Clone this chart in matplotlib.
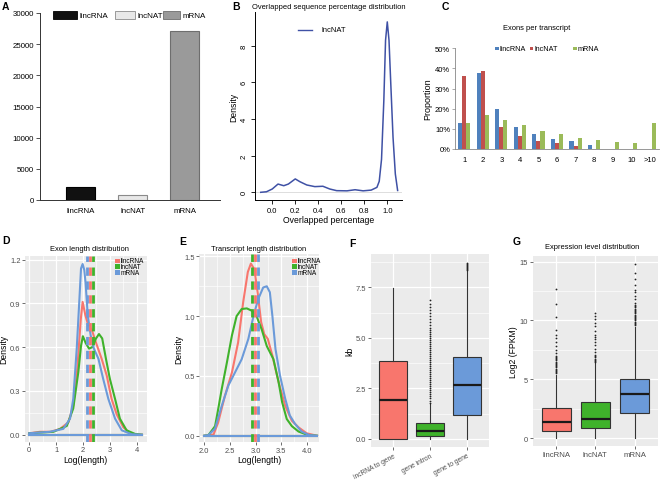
import matplotlib
matplotlib.use("Agg")
import matplotlib.pyplot as plt
from matplotlib.patches import Rectangle
from matplotlib.lines import Line2D

plt.rcParams['font.family'] = ['Liberation Sans', 'DejaVu Sans']
plt.rcParams['lines.scale_dashes'] = False

# ------------------------------------------------------------------ data
# A: transcript counts
a_categories = ['lincRNA', 'lncNAT', 'mRNA']
a_counts = [2100, 850, 27150]

# B: overlapped sequence percentage density (lncNAT)
b_x = [-0.10, -0.05, 0.0, 0.05, 0.10, 0.14, 0.20, 0.24, 0.30, 0.37, 0.44, 0.50,
       0.56, 0.65, 0.72, 0.79, 0.86, 0.91, 0.93, 0.95, 0.97, 0.985, 1.0, 1.015,
       1.03, 1.05, 1.07, 1.09]
b_y = [0.0, 0.03, 0.18, 0.45, 0.36, 0.45, 0.73, 0.58, 0.40, 0.31, 0.33, 0.18,
       0.09, 0.08, 0.14, 0.08, 0.12, 0.27, 0.6, 1.8, 5.0, 8.3, 9.3, 8.3,
       6.0, 3.0, 1.0, 0.1]

# C: exons per transcript (%)
c_groups = ['1', '2', '3', '4', '5', '6', '7', '8', '9', '10', '>10']
c_lincRNA = [13.0, 37.9, 20.0, 10.7, 7.2, 4.8, 4.1, 1.8, 0.2, 0.0, 0.1]
c_lncNAT = [36.3, 38.6, 10.8, 6.7, 3.9, 2.8, 1.5, 0.0, 0.0, 0.0, 0.0]
c_mRNA = [12.7, 16.9, 14.5, 11.7, 8.9, 7.2, 5.3, 4.4, 3.4, 2.8, 12.7]

# D: exon length density
d_lincRNA_x = [0, 0.4, 0.8, 1.15, 1.46, 1.64, 1.79, 1.92, 1.99, 2.09, 2.2, 2.33,
               2.49, 2.7, 2.89, 3.07, 3.26, 3.51, 3.8, 4.2]
d_lincRNA_y = [0.01, 0.02, 0.02, 0.04, 0.085, 0.2, 0.45, 0.79, 0.91, 0.82, 0.75, 0.72,
               0.63, 0.52, 0.405, 0.245, 0.14, 0.05, 0.005, 0.0]
d_lncNAT_x = [0, 0.9, 1.4, 1.64, 1.83, 1.93, 2.0, 2.1, 2.23, 2.35, 2.49, 2.6, 2.72,
              2.86, 3.01, 3.2, 3.38, 3.63, 3.95, 4.2]
d_lncNAT_y = [0.01, 0.02, 0.06, 0.18, 0.43, 0.61, 0.675, 0.63, 0.59, 0.6, 0.66, 0.69,
              0.66, 0.52, 0.38, 0.245, 0.11, 0.03, 0.005, 0.0]
d_mRNA_x = [0, 0.77, 1.27, 1.52, 1.64, 1.77, 1.87, 1.93, 1.99, 2.05, 2.1, 2.18, 2.29,
            2.41, 2.58, 2.76, 2.95, 3.2, 3.45, 3.82, 4.2]
d_mRNA_y = [0.01, 0.02, 0.04, 0.11, 0.245, 0.59, 0.93, 1.14, 1.17, 1.13, 1.04, 0.82,
            0.68, 0.59, 0.52, 0.38, 0.245, 0.11, 0.03, 0.003, 0.0]
d_means = [2.26, 2.37, 2.15]   # lincRNA, lncNAT, mRNA

# E: transcript length density
e_lincRNA_x = [2.0, 2.18, 2.27, 2.40, 2.54, 2.66, 2.76, 2.85, 2.91, 2.98, 3.04, 3.11,
               3.17, 3.24, 3.33, 3.45, 3.58, 3.71, 3.84, 4.0, 4.2]
e_lincRNA_y = [0.0, 0.01, 0.11, 0.33, 0.53, 0.78, 1.12, 1.37, 1.44, 1.39, 1.2, 0.95,
               0.85, 0.81, 0.67, 0.45, 0.25, 0.125, 0.07, 0.02, 0.0]
e_lncNAT_x = [2.0, 2.08, 2.21, 2.27, 2.34, 2.44, 2.54, 2.63, 2.73, 2.83, 2.93, 3.02,
              3.12, 3.22, 3.35, 3.45, 3.52, 3.61, 3.71, 3.84, 4.03, 4.2]
e_lncNAT_y = [0.0, 0.005, 0.08, 0.22, 0.39, 0.61, 0.84, 1.0, 1.06, 1.065, 1.045, 1.0,
              0.89, 0.75, 0.64, 0.45, 0.28, 0.14, 0.08, 0.035, 0.005, 0.0]
e_mRNA_x = [2.0, 2.08, 2.21, 2.34, 2.47, 2.6, 2.73, 2.86, 2.96, 3.05, 3.15, 3.22,
            3.28, 3.33, 3.39, 3.48, 3.58, 3.67, 3.77, 3.9, 4.05, 4.2]
e_mRNA_y = [0.0, 0.005, 0.06, 0.25, 0.42, 0.53, 0.64, 0.81, 1.0, 1.14, 1.24, 1.25,
            1.2, 1.0, 0.725, 0.5, 0.31, 0.17, 0.1, 0.035, 0.005, 0.0]
e_means = [2.99, 2.94, 3.04]

# F: distances (kb)
f_labels = ['lncRNA to gene', 'gene intron', 'gene to gene']
f_q1 = [0.0, 0.15, 1.2]
f_med = [1.95, 0.38, 2.67]
f_q3 = [3.87, 0.78, 4.04]
f_whislo = [0.0, 0.0, 0.0]
f_whishi = [7.45, 1.72, 8.3]
f_fliers_lnc = []
f_fliers_intron = [1.8, 1.9, 2.0, 2.1, 2.2, 2.3, 2.4, 2.5, 2.6, 2.7, 2.8, 2.9, 3.0,
                   3.1, 3.2, 3.3, 3.4, 3.5, 3.6, 3.7, 3.8, 3.9, 4.0, 4.1, 4.2, 4.3,
                   4.4, 4.5, 4.6, 4.7, 4.8, 4.9, 5.0, 5.1, 5.2, 5.3, 5.4, 5.5, 5.65,
                   5.8, 5.95, 6.1, 6.25, 6.4, 6.55, 6.7, 6.85]
f_fliers_g2g = [8.35, 8.4, 8.45, 8.5, 8.55, 8.6, 8.65, 8.7]

# G: expression level
g_labels = ['lincRNA', 'lncNAT', 'mRNA']
g_q1 = [0.62, 0.82, 2.1]
g_med = [1.33, 1.62, 3.77]
g_q3 = [2.52, 3.04, 5.05]
g_whislo = [0.0, 0.0, 0.0]
g_whishi = [5.37, 6.37, 9.47]
g_fliers_linc = [5.5, 5.6, 5.7, 5.8, 5.9, 6.0, 6.1, 6.2, 6.3, 6.4, 6.5, 6.6, 6.7,
                 6.8, 6.9, 7.0, 7.2, 7.5, 7.8, 8.2, 8.5, 8.8, 9.2, 10.3, 11.4, 12.7]
g_fliers_nat = [6.45, 6.55, 6.65, 6.75, 6.85, 6.95, 7.05, 7.3, 7.6, 7.9, 8.2, 8.4,
                8.6, 8.8, 9.1, 9.5, 9.8, 10.1, 10.4, 10.6]
g_fliers_mrna = [9.6, 9.7, 9.8, 9.9, 10.0, 10.1, 10.2, 10.3, 10.4, 10.5, 10.6, 10.7,
                 10.8, 10.9, 11.0, 11.1, 11.2, 11.3, 11.5, 11.8, 12.1, 12.4, 12.6,
                 13.0, 13.5, 14.0, 14.8]

# ------------------------------------------------------------------ helpers
W, H = 660, 481
fig = plt.figure(figsize=(6.6, 4.81), dpi=100)


def rect(l, t, r, b):
    return [l / W, 1 - b / H, (r - l) / W, (b - t) / H]


def ftext(x, y, s, **kw):
    fig.text(x / W, 1 - y / H, s, **kw)


def fbox(x, y, w, h, color, ec='none', lw=0):
    fig.patches.append(Rectangle((x / W, 1 - (y + h) / H), w / W, h / H,
                                 transform=fig.transFigure, facecolor=color,
                                 edgecolor=ec, linewidth=lw))


RED, GREEN, BLUE = '#F8766D', '#3FB22B', '#6B9AD9'
TICKC = '#4D4D4D'


def gg_style(ax, xmaj, xmin, ymaj, ymin):
    ax.set_facecolor('#EBEBEB')
    for s in ax.spines.values():
        s.set_visible(False)
    ax.set_xticks(xmaj)
    ax.set_yticks(ymaj)
    if xmin is not None:
        ax.set_xticks(xmin, minor=True)
    ax.set_yticks(ymin, minor=True)
    ax.grid(which='major', color='white', lw=0.9)
    ax.grid(which='minor', color='white', lw=0.45)
    ax.set_axisbelow(True)
    ax.tick_params(which='minor', length=0)
    ax.tick_params(which='major', length=2, width=0.5, color='#333333',
                   labelsize=5.4, labelcolor=TICKC, pad=1.2)


# ------------------------------------------------------------------ A
axA = fig.add_axes(rect(40, 14, 220, 201))
a_colors = ['#111111', '#E8E8E8', '#9A9A9A']
a_edges = ['#000000', '#8A8A8A', '#6E6E6E']
axA.bar(range(3), a_counts, width=0.56, color=a_colors, edgecolor=a_edges, linewidth=0.8)
axA.set_xlim(-0.78, 2.68)
axA.set_ylim(0, 30000)
axA.set_yticks([0, 5000, 10000, 15000, 20000, 25000, 30000])
axA.set_xticks(range(3))
axA.set_xticklabels(a_categories)
for s in ['top', 'right']:
    axA.spines[s].set_visible(False)
axA.spines['left'].set_color('#333333')
axA.spines['bottom'].set_color('#333333')
axA.spines['left'].set_linewidth(0.7)
axA.spines['bottom'].set_linewidth(0.7)
axA.tick_params(axis='y', length=3, width=0.6, labelsize=5.7, pad=1.5, color='#333333')
axA.tick_params(axis='x', length=0, labelsize=5.7, pad=5)
# legend
for (x0, w, x1, lab, col, ec) in [(53, 24, 80, 'lincRNA', a_colors[0], a_edges[0]),
                                  (115, 20, 138, 'lncNAT', a_colors[1], a_edges[1]),
                                  (163, 17, 183, 'mRNA', a_colors[2], a_edges[2])]:
    fbox(x0, 12, w, 8, col, ec, 0.6)
    ftext(x1, 16, lab, fontsize=5.8, va='center', ha='left')

# ------------------------------------------------------------------ B
axB = fig.add_axes(rect(255, 13, 402, 201))
axB.axhline(0, color='#D0D0D0', lw=0.5, zorder=1)
axB.plot(b_x, b_y, color='#3F51A5', lw=1.1, zorder=2)
axB.set_xlim(-0.15, 1.128)
axB.set_ylim(-0.42, 9.84)
axB.set_xticks([0.0, 0.2, 0.4, 0.6, 0.8, 1.0])
axB.set_yticks([0, 2, 4, 6, 8])
for s in ['top', 'right']:
    axB.spines[s].set_visible(False)
for s in ['left', 'bottom']:
    axB.spines[s].set_linewidth(0.7)
axB.tick_params(length=3, width=0.6, labelsize=5.5, pad=2)
for lab in axB.get_yticklabels():
    lab.set_rotation(90)
    lab.set_va('center')
axB.set_xlabel('Overlapped percentage', fontsize=6.2, labelpad=1)
axB.set_ylabel('Density', fontsize=6.2, labelpad=2)
axB.set_title('Overlapped sequence percentage distribution', fontsize=5.4, pad=3)
fig.lines.append(Line2D([298 / W, 312 / W], [1 - 31 / H, 1 - 31 / H],
                        transform=fig.transFigure, color='#3F51A5', lw=1.0))
ftext(321, 31, 'lncNAT', fontsize=5.5, va='center')

# ------------------------------------------------------------------ C
axC = fig.add_axes(rect(455, 49.3, 659, 150))
xs = list(range(1, 12))
bw = 0.22
axC.bar([x - bw for x in xs], c_lincRNA, width=bw, color='#4F81BD')
axC.bar(xs, c_lncNAT, width=bw, color='#C0504D')
axC.bar([x + bw for x in xs], c_mRNA, width=bw, color='#9BBB59')
axC.set_xlim(0.5, 11.5)
axC.set_ylim(0, 50)
axC.set_yticks([0, 10, 20, 30, 40, 50])
axC.set_yticklabels(['0%', '10%', '20%', '30%', '40%', '50%'])
axC.set_xticks(xs)
axC.set_xticklabels(c_groups)
for s in ['top', 'right']:
    axC.spines[s].set_visible(False)
for s in ['left', 'bottom']:
    axC.spines[s].set_color('#878787')
    axC.spines[s].set_linewidth(0.6)
axC.tick_params(axis='y', length=2, width=0.5, color='#878787', labelsize=5.5, pad=1.5)
axC.tick_params(axis='x', length=0, labelsize=5.5, pad=5)
axC.set_ylabel('Proportion', fontsize=6.5, labelpad=2)
ftext(537, 28, 'Exons per transcript', fontsize=5.4, ha='center', va='center')
for (x0, lab, col) in [(495, 'lincRNA', '#4F81BD'), (529.5, 'lncNAT', '#C0504D'),
                       (573, 'mRNA', '#9BBB59')]:
    fbox(x0, 47.5, 3.6, 3.6, col)
    ftext(x0 + 4.6, 49.3, lab, fontsize=5.2, va='center')

# ------------------------------------------------------------------ D
axD = fig.add_axes(rect(25, 256.7, 146.7, 443))
gg_style(axD, [0, 1, 2, 3, 4], [0.5, 1.5, 2.5, 3.5], [0, 0.3, 0.6, 0.9, 1.2],
         [0.15, 0.45, 0.75, 1.05])
for (x, y, c) in [(d_lincRNA_x, d_lincRNA_y, RED), (d_lncNAT_x, d_lncNAT_y, GREEN),
                  (d_mRNA_x, d_mRNA_y, BLUE)]:
    axD.plot(x, y, color=c, lw=1.5, solid_joinstyle='round')
    axD.plot([x[0], x[-1]], [0, 0], color=c, lw=1.5)
for m, c in zip(d_means, [RED, GREEN, BLUE]):
    axD.axvline(m, color=c, lw=2.0, dashes=(6.0, 4.0))
axD.set_xlim(-0.16, 4.38)
axD.set_ylim(-0.05, 1.227)
axD.set_yticklabels(['0.0', '0.3', '0.6', '0.9', '1.2'])
axD.set_xlabel('Log(length)', fontsize=6.2, labelpad=1)
axD.set_ylabel('Density', fontsize=6.2, labelpad=1)
ftext(89, 249.3, 'Exon length distribution', fontsize=5.4, ha='center', va='center')
for i, (lab, c) in enumerate([('lincRNA', RED), ('lncNAT', GREEN), ('mRNA', BLUE)]):
    fbox(115, 259.5 + i * 5.8, 4.6, 4.6, c)
    ftext(121, 261.8 + i * 5.8, lab, fontsize=4.7, va='center')

# ------------------------------------------------------------------ E
axE = fig.add_axes(rect(199.3, 255, 319, 443.3))
gg_style(axE, [2.0, 2.5, 3.0, 3.5, 4.0], [2.25, 2.75, 3.25, 3.75],
         [0, 0.5, 1.0, 1.5], [0.25, 0.75, 1.25])
for (x, y, c) in [(e_lincRNA_x, e_lincRNA_y, RED), (e_lncNAT_x, e_lncNAT_y, GREEN),
                  (e_mRNA_x, e_mRNA_y, BLUE)]:
    axE.plot(x, y, color=c, lw=1.5, solid_joinstyle='round')
    axE.plot([x[0], x[-1]], [0, 0], color=c, lw=1.5)
for m, c in zip(e_means, [RED, GREEN, BLUE]):
    axE.axvline(m, color=c, lw=2.0, dashes=(6.0, 4.0))
axE.set_xlim(1.902, 4.24)
axE.set_ylim(-0.055, 1.52)
axE.set_xticklabels(['2.0', '2.5', '3.0', '3.5', '4.0'])
axE.set_yticklabels(['0.0', '0.5', '1.0', '1.5'])
axE.set_xlabel('Log(length)', fontsize=6.2, labelpad=1)
axE.set_ylabel('Density', fontsize=6.2, labelpad=1)
ftext(258.3, 249.3, 'Transcript length distribution', fontsize=5.4, ha='center', va='center')
for i, (lab, c) in enumerate([('lincRNA', RED), ('lncNAT', GREEN), ('mRNA', BLUE)]):
    fbox(292, 259.5 + i * 5.8, 4.6, 4.6, c)
    ftext(298, 261.8 + i * 5.8, lab, fontsize=4.7, va='center')


# ------------------------------------------------------------------ box helper
def draw_box(ax, q1, med, q3, wlo, whi, fliers, colors):
    stats = []
    for i in range(3):
        stats.append(dict(q1=q1[i], med=med[i], q3=q3[i], whislo=wlo[i],
                          whishi=whi[i], fliers=fliers[i]))
    bp = ax.bxp(stats, positions=[1, 2, 3], widths=0.75, patch_artist=True,
                showcaps=False, manage_ticks=False,
                boxprops=dict(edgecolor='#333333', linewidth=0.8),
                medianprops=dict(color='#1A1A1A', linewidth=1.6),
                whiskerprops=dict(color='#333333', linewidth=0.8),
                flierprops=dict(marker='o', markersize=1.3, markerfacecolor='#222222',
                                markeredgecolor='none'))
    for patch, c in zip(bp['boxes'], colors):
        patch.set_facecolor(c)
    ax.set_xlim(0.4, 3.6)


# ------------------------------------------------------------------ F
axF = fig.add_axes(rect(370.7, 255, 489, 448))
gg_style(axF, [1, 2, 3], None, [0, 2.5, 5.0, 7.5], [1.25, 3.75, 6.25, 8.75])
draw_box(axF, f_q1, f_med, f_q3, f_whislo, f_whishi,
         [f_fliers_lnc, f_fliers_intron, f_fliers_g2g], [RED, GREEN, BLUE])
axF.set_ylim(-0.4, 9.15)
axF.set_xticks([1, 2, 3])
axF.set_yticks([0, 2.5, 5.0, 7.5])
axF.set_yticklabels(['0.0', '2.5', '5.0', '7.5'])
axF.set_xticklabels(f_labels, rotation=28, ha='right', rotation_mode='anchor')
axF.tick_params(axis='x', labelsize=4.8, pad=1.5)
axF.set_ylabel('kb', fontsize=6.2, labelpad=1)

# ------------------------------------------------------------------ G
axG = fig.add_axes(rect(532.7, 256.7, 658, 446.7))
gg_style(axG, [1, 2, 3], None, [0, 5, 10, 15], [2.5, 7.5, 12.5])
draw_box(axG, g_q1, g_med, g_q3, g_whislo, g_whishi,
         [g_fliers_linc, g_fliers_nat, g_fliers_mrna], [RED, GREEN, BLUE])
axG.set_ylim(-0.65, 15.5)
axG.set_xticks([1, 2, 3])
axG.set_yticks([0, 5, 10, 15])
axG.set_xticklabels(g_labels)
axG.tick_params(axis='x', labelsize=5.6, pad=2)
axG.set_ylabel('Log2 (FPKM)', fontsize=6.2, labelpad=1)
ftext(591.7, 247.3, 'Expression level distribution', fontsize=5.4, ha='center', va='center')

# ------------------------------------------------------------------ panel letters
for (x, y, s) in [(2, 7, 'A'), (232, 7, 'B'), (442, 7, 'C'), (2, 241, 'D'),
                  (179, 242, 'E'), (349, 244, 'F'), (513, 242, 'G')]:
    ftext(x, y, s, fontsize=7.5, fontweight='bold', ha='left', va='center')

fig.savefig('out.png', dpi=100)
